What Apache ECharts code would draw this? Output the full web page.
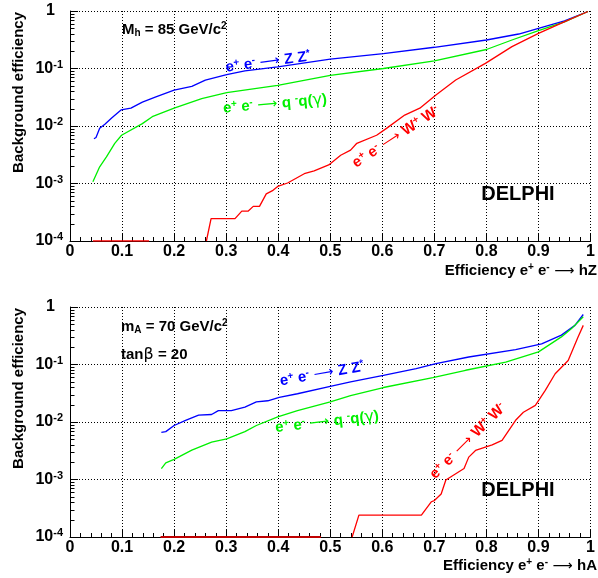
<!DOCTYPE html>
<html><head><meta charset="utf-8">
<script src="https://cdn.jsdelivr.net/npm/echarts@6/dist/echarts.min.js"></script>
<style>html,body{margin:0;padding:0;background:#fff}#c{width:598px;height:578px}</style>
</head><body><div id="c"></div>
<script>
const FONT = "'Liberation Sans', Arial, Helvetica, sans-serif";

// ---------- Top panel (M_h = 85 GeV/c^2) ----------
const hzZZx = [0.046,0.050,0.057,0.067,0.080,0.098,0.117,0.139,0.165,0.200,0.234,0.260,0.301,0.336,0.399,0.500,0.602,0.700,0.800,0.862,0.900,0.950,0.995];
const hzZZy = [0.0060,0.0063,0.0091,0.0107,0.0138,0.0190,0.0204,0.0260,0.0320,0.0420,0.0490,0.0630,0.0780,0.0910,0.107,0.145,0.182,0.234,0.313,0.398,0.500,0.676,0.980];

const hzQQx = [0.044,0.057,0.070,0.086,0.099,0.139,0.158,0.200,0.253,0.301,0.399,0.500,0.602,0.700,0.800,0.849,0.900,0.950,0.995];
const hzQQy = [0.00107,0.00195,0.0029,0.0050,0.0069,0.0110,0.0145,0.0204,0.0300,0.0380,0.0510,0.0760,0.100,0.136,0.214,0.313,0.457,0.646,0.980];

const hzWWfloorX = [0.044,0.152];
const hzWWfloorY = [0.0001,0.0001];
const hzWWx = [0.262,0.271,0.317,0.330,0.342,0.352,0.364,0.377,0.390,0.399,0.418,0.450,0.469,0.497,0.520,0.539,0.551,0.589,0.608,0.643,0.672,0.703,0.741,0.798,0.849,0.900,0.944,0.995];
const hzWWy = [0.0001,0.000245,0.000245,0.00033,0.00033,0.00040,0.00040,0.00066,0.00076,0.00089,0.00102,0.00148,0.00166,0.0021,0.0031,0.0038,0.0050,0.0069,0.0091,0.0155,0.0204,0.0347,0.063,0.123,0.240,0.407,0.617,0.980];

// ---------- Bottom panel (m_A = 70 GeV/c^2, tanβ = 20) ----------
const haZZx = [0.1755,0.184,0.200,0.222,0.247,0.272,0.285,0.310,0.336,0.358,0.380,0.402,0.437,0.500,0.539,0.602,0.665,0.703,0.766,0.856,0.906,0.944,0.970,0.986];
const haZZy = [0.0066,0.0068,0.0087,0.0107,0.0132,0.0135,0.0158,0.0158,0.0182,0.0224,0.0234,0.0269,0.0310,0.0417,0.0500,0.0646,0.0850,0.1035,0.135,0.182,0.229,0.324,0.479,0.741];

const haQQx = [0.1755,0.184,0.200,0.234,0.272,0.301,0.336,0.358,0.399,0.437,0.500,0.539,0.602,0.697,0.760,0.837,0.900,0.944,0.963,0.986];
const haQQy = [0.00155,0.00195,0.00224,0.00324,0.00447,0.0051,0.0068,0.0087,0.0123,0.0158,0.0224,0.0288,0.0398,0.0589,0.0794,0.110,0.166,0.302,0.417,0.676];

const haWWfloorX = [0.174,0.482];
const haWWfloorY = [0.0001,0.0001];
const haWWx = [0.542,0.555,0.675,0.694,0.700,0.713,0.722,0.757,0.766,0.779,0.811,0.830,0.856,0.871,0.894,0.913,0.932,0.957,0.976,0.986];
const haWWy = [0.0001,0.00024,0.00024,0.00041,0.00043,0.00056,0.00098,0.00155,0.00245,0.0032,0.0040,0.0048,0.0107,0.0148,0.0195,0.0355,0.069,0.117,0.302,0.479];

// ---------- Axes / ticks ----------
const xMin = 0, xMax = 1, xStep = 0.1;
const yMin = 0.0001, yMax = 1;
const yMinorMultipliers = [2,3,4,5,6,7,8,9];
const yDecades = [0.0001,0.001,0.01,0.1];

const BLUE = '#0000ff', GREEN = '#00f000', RED = '#ff0000';

function pairs(xs, ys){ return xs.map((x,i)=>[x, ys[i]]); }
const yMinorValues = [];
yDecades.forEach(d => yMinorMultipliers.forEach(m => yMinorValues.push(+(m*d).toPrecision(3))));

const dotted = { color:'#000', width:1, type:[1,2] };

function xAxisFor(grid){
  return {
    type:'value', gridIndex:grid, min:xMin, max:xMax, interval:xStep,
    axisLine:{ show:true, onZero:false, lineStyle:{color:'#000', width:1} },
    axisTick:{ show:true, inside:true, length:8, lineStyle:{color:'#000', width:1} },
    minorTick:{ show:true, splitNumber:5, length:4, lineStyle:{color:'#000', width:1} },
    splitLine:{ show:true, lineStyle:dotted },
    axisLabel:{ show:true, margin:3, color:'#000', fontFamily:FONT, fontWeight:'bold', fontSize:16,
      showMinLabel:true, showMaxLabel:true, hideOverlap:false,
      formatter: v => String(+v.toFixed(1)) }
  };
}
function yAxisFor(grid){
  return {
    type:'log', logBase:10, gridIndex:grid, min:yMin, max:yMax,
    axisLine:{ show:true, onZero:false, lineStyle:{color:'#000', width:1} },
    axisTick:{ show:true, inside:true, length:8, lineStyle:{color:'#000', width:1} },
    splitLine:{ show:true, lineStyle:dotted },
    axisLabel:{ show:true, margin:7, color:'#000', fontFamily:FONT, fontWeight:'bold',
      formatter: v => { const n = Math.round(Math.log10(v)); return n === 0 ? '{o|1}' : '{m|10}{e|' + n + '}'; },
      rich:{
        m:{ fontSize:16, fontWeight:'bold', fontFamily:FONT, color:'#000' },
        e:{ fontSize:11, fontWeight:'bold', fontFamily:FONT, color:'#000', verticalAlign:'top', padding:[0,0,8,0] },
        o:{ fontSize:16, fontWeight:'bold', fontFamily:FONT, color:'#000', padding:[0,8,0,0] }
      } }
  };
}
// log-axis minor ticks (2..9 per decade), placed through the axis scale
function minorTicks(xi, yi){
  return {
    type:'custom', xAxisIndex:xi, yAxisIndex:yi, silent:true, clip:false, z:3, animation:false,
    data: yMinorValues.map(v => [xMin, v]),
    renderItem: (params, api) => {
      const p = api.coord([api.value(0), api.value(1)]);
      const yy = Math.round(p[1]) + 0.5;
      return { type:'line', shape:{ x1:p[0], y1:yy, x2:p[0] + 4.5, y2:yy }, style:{ stroke:'#000', lineWidth:1 } };
    }
  };
}
function line(data, color, xi, yi, extra){
  return Object.assign({ type:'line', xAxisIndex:xi, yAxisIndex:yi, data:data, showSymbol:false, symbol:'none',
    connectNulls:false, animation:false, lineStyle:{ color:color, width:1.3 }, itemStyle:{color:color}, z:5 }, extra||{});
}

// rich text helpers
function rich(color){
  return {
    b:{ fontSize:15, fontWeight:'bold', fontFamily:FONT, fill:color },
    s:{ fontSize:10, fontWeight:'bold', fontFamily:FONT, fill:color, verticalAlign:'top', padding:[0,0,7,0] },
    sub:{ fontSize:10, fontWeight:'bold', fontFamily:FONT, fill:color, verticalAlign:'bottom', padding:[7,0,0,0] },
    a:{ fontSize:14, fontWeight:'normal', fontFamily:"'DejaVu Sans', sans-serif", fill:color },
    g:{ fontSize:16, fontWeight:'normal', fontFamily:"'DejaVu Sans', sans-serif", fill:color }
  };
}
function label(text, color, x, y, angle, align){
  return { type:'text', x:x, y:y, rotation: (angle||0)*Math.PI/180, z:100,
    style:{ text:text, fill:color, align:align||'center', verticalAlign:'middle', rich:rich(color),
      font:"bold 15px " + FONT } };
}
const txtZZ = '{b|e}{s|+}{b| e}{s|-}{a| ⟶ }{b|Z Z}{s|*}';
const txtQQ = '{b|e}{s|+}{b| e}{s|-}{a| ⟶ }{b|q }{s|-}{b|q(}{g|γ}{b|)}';
const txtWW = '{b|e}{s|+}{b| e}{s|-}{a| ⟶ }{b|W}{s|+}{b| W}{s|-}';

const option = {
  animation:false,
  backgroundColor:'#fff',
  grid:[
    { left:70, top:11, width:526, height:230, containLabel:false },
    { left:70, top:307, width:526, height:230, containLabel:false }
  ],
  xAxis:[ xAxisFor(0), xAxisFor(1) ],
  yAxis:[ yAxisFor(0), yAxisFor(1) ],
  series:[
    minorTicks(0, 0),
    minorTicks(1, 1),
    line(pairs(hzZZx,hzZZy), BLUE, 0, 0),
    line(pairs(hzQQx,hzQQy), GREEN, 0, 0),
    line(pairs(hzWWfloorX,hzWWfloorY), RED, 0, 0),
    line(pairs(hzWWx,hzWWy), RED, 0, 0),
    line(pairs(haZZx,haZZy), BLUE, 1, 1),
    line(pairs(haQQx,haQQy), GREEN, 1, 1),
    line(pairs(haWWfloorX,haWWfloorY), '#c00000', 1, 1, { lineStyle:{color:'#c00000', width:2} }),
    line(pairs(haWWx,haWWy), RED, 1, 1)
  ],
  graphic:[
    // axis titles
    { type:'text', x:19, y:12, rotation:Math.PI/2, style:{ text:'Background efficiency', fill:'#000', align:'right', verticalAlign:'middle', font:'bold 15px ' + FONT } },
    { type:'text', x:19, y:308, rotation:Math.PI/2, style:{ text:'Background efficiency', fill:'#000', align:'right', verticalAlign:'middle', font:'bold 15px ' + FONT } },
    label('{b|Efficiency e}{s|+}{b| e}{s|-}{a| ⟶ }{b|hZ}', '#000', 597, 271, 0, 'right'),
    label('{b|Efficiency e}{s|+}{b| e}{s|-}{a| ⟶ }{b|hA}', '#000', 597, 566, 0, 'right'),
    // panel texts
    label('{b|M}{sub|h}{b| = 85 GeV/c}{s|2}', '#000', 122, 30, 0, 'left'),
    label('{b|m}{sub|A}{b| = 70 GeV/c}{s|2}', '#000', 121, 327, 0, 'left'),
    label('{b|tan}{g|β}{b| = 20}', '#000', 121, 355, 0, 'left'),
    { type:'text', x:518, y:194, z:100, style:{ text:'DELPHI', fill:'#000', align:'center', verticalAlign:'middle', font:'bold 20px ' + FONT } },
    { type:'text', x:518, y:490, z:100, style:{ text:'DELPHI', fill:'#000', align:'center', verticalAlign:'middle', font:'bold 20px ' + FONT } },
    // curve labels
    label(txtZZ, BLUE, 268, 62, 7.5),
    label(txtQQ, GREEN, 275, 104, 5),
    label(txtWW, RED, 396, 137, 33),
    label(txtZZ, BLUE, 322, 374, 10),
    label(txtQQ, GREEN, 327, 422, 6.5),
    label(txtWW, RED, 468, 441, 45)
  ]
};
const chart = echarts.init(document.getElementById('c'), null, { renderer:'canvas' });
chart.setOption(option);
</script>
</body></html>
